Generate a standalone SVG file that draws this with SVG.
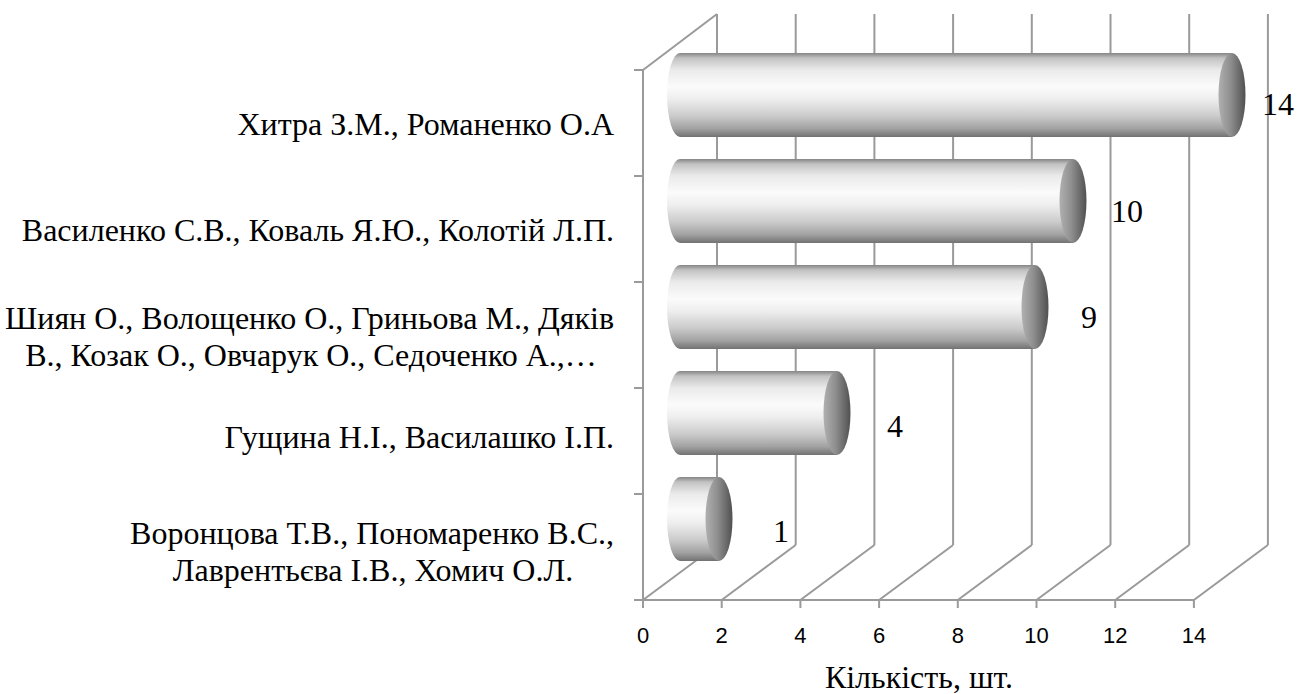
<svg xmlns="http://www.w3.org/2000/svg" width="1298" height="694" viewBox="0 0 1298 694">
<style>
.grid{stroke:#9a9a9a;stroke-width:2;fill:none}
.lbl{font-family:"Liberation Serif","Times New Roman",serif;font-size:32px;fill:#000}
.cat{text-anchor:end}
.mid{text-anchor:middle}
.num{font-family:"Liberation Sans",Arial,sans-serif;font-size:22px;fill:#000;text-anchor:middle}
.body{fill:url(#gBody)}
.cap{fill:url(#gCap)}
</style>
<defs>
<linearGradient id="gBody" x1="0" y1="0" x2="0" y2="1">
<stop offset="0" stop-color="#858585"/>
<stop offset="0.06" stop-color="#c2c2c2"/>
<stop offset="0.2" stop-color="#eaeaea"/>
<stop offset="0.4" stop-color="#fbfbfb"/>
<stop offset="0.55" stop-color="#eeeeee"/>
<stop offset="0.75" stop-color="#cbcbcb"/>
<stop offset="0.9" stop-color="#a2a2a2"/>
<stop offset="1" stop-color="#727272"/>
</linearGradient>
<linearGradient id="gCap" x1="0" y1="0" x2="1" y2="0">
<stop offset="0" stop-color="#b0b0b0"/>
<stop offset="0.45" stop-color="#8e8e8e"/>
<stop offset="1" stop-color="#505050"/>
</linearGradient>
</defs>
<rect width="1298" height="694" fill="#fff"/>
<g id="axes">
<g id="backwall" class="grid">
<line x1="717" y1="14" x2="717" y2="545"/>
<line x1="795.7" y1="14" x2="795.7" y2="545"/>
<line x1="874.4" y1="14" x2="874.4" y2="545"/>
<line x1="953.1" y1="14" x2="953.1" y2="545"/>
<line x1="1031.8" y1="14" x2="1031.8" y2="545"/>
<line x1="1110.5" y1="14" x2="1110.5" y2="545"/>
<line x1="1189.2" y1="14" x2="1189.2" y2="545"/>
<line x1="1267.9" y1="14" x2="1267.9" y2="545"/>
<line x1="643" y1="600" x2="717" y2="545"/>
<line x1="721.7" y1="600" x2="795.7" y2="545"/>
<line x1="800.4" y1="600" x2="874.4" y2="545"/>
<line x1="879.1" y1="600" x2="953.1" y2="545"/>
<line x1="957.8" y1="600" x2="1031.8" y2="545"/>
<line x1="1036.5" y1="600" x2="1110.5" y2="545"/>
<line x1="1115.2" y1="600" x2="1189.2" y2="545"/>
<line x1="1193.9" y1="600" x2="1267.9" y2="545"/>
</g>
</g>
<g id="bar1">
<path class="body" d="M680 53 L1232 53 L1232 137 L680 137 A13 42 0 0 1 680 53 Z"/>
<ellipse class="cap" cx="1232" cy="95" rx="13.5" ry="42"/>
</g>
<g id="bar2">
<path class="body" d="M680 159 L1073 159 L1073 243 L680 243 A13 42 0 0 1 680 159 Z"/>
<ellipse class="cap" cx="1073" cy="201" rx="13.5" ry="42"/>
</g>
<g id="bar3">
<path class="body" d="M680 265 L1035 265 L1035 349 L680 349 A13 42 0 0 1 680 265 Z"/>
<ellipse class="cap" cx="1035" cy="307" rx="13.5" ry="42"/>
</g>
<g id="bar4">
<path class="body" d="M680 371 L837 371 L837 455 L680 455 A13 42 0 0 1 680 371 Z"/>
<ellipse class="cap" cx="837" cy="413" rx="13.5" ry="42"/>
</g>
<g id="bar5">
<path class="body" d="M680 477 L719 477 L719 561 L680 561 A13 42 0 0 1 680 477 Z"/>
<ellipse class="cap" cx="719" cy="519" rx="13.5" ry="42"/>
</g>
<g id="frontaxes" class="grid">
<line x1="643" y1="70" x2="717" y2="14"/>
<line x1="643" y1="70" x2="643" y2="600"/>
<line x1="643" y1="600" x2="1194" y2="600"/>
<line x1="634" y1="70" x2="643" y2="70"/>
<line x1="634" y1="176" x2="643" y2="176"/>
<line x1="634" y1="282" x2="643" y2="282"/>
<line x1="634" y1="388" x2="643" y2="388"/>
<line x1="634" y1="494" x2="643" y2="494"/>
<line x1="634" y1="600" x2="643" y2="600"/>
<line x1="643" y1="600" x2="643" y2="608"/>
<line x1="721.7" y1="600" x2="721.7" y2="608"/>
<line x1="800.4" y1="600" x2="800.4" y2="608"/>
<line x1="879.1" y1="600" x2="879.1" y2="608"/>
<line x1="957.8" y1="600" x2="957.8" y2="608"/>
<line x1="1036.5" y1="600" x2="1036.5" y2="608"/>
<line x1="1115.2" y1="600" x2="1115.2" y2="608"/>
<line x1="1193.9" y1="600" x2="1193.9" y2="608"/>
</g>
<g id="categories" class="lbl">
<text class="cat" x="614" y="135">Хитра З.М., Романенко О.А</text>
<text class="cat" x="614" y="241">Василенко С.В., Коваль Я.Ю., Колотій Л.П.</text>
<text class="cat" x="614" y="329">Шиян О., Волощенко О., Гриньова М., Дяків</text>
<text class="mid" x="311" y="366">В., Козак О., Овчарук О., Седоченко А.,…</text>
<text class="cat" x="614" y="448">Гущина Н.І., Василашко І.П.</text>
<text class="cat" x="614" y="544">Воронцова Т.В., Пономаренко В.С.,</text>
<text class="mid" x="373" y="581">Лаврентьєва І.В., Хомич О.Л.</text>
</g>
<g id="values" class="lbl">
<text x="1262" y="115">14</text>
<text x="1111" y="222">10</text>
<text x="1081" y="328">9</text>
<text x="887" y="437">4</text>
<text x="773" y="542">1</text>
</g>
<g id="xticks" class="num">
<text x="643" y="643">0</text>
<text x="721.7" y="643">2</text>
<text x="800.4" y="643">4</text>
<text x="879.1" y="643">6</text>
<text x="957.8" y="643">8</text>
<text x="1036.5" y="643">10</text>
<text x="1115.2" y="643">12</text>
<text x="1193.9" y="643">14</text>
</g>
<text id="xtitle" class="lbl" x="919" y="688" text-anchor="middle">Кількість, шт.</text>
</svg>
